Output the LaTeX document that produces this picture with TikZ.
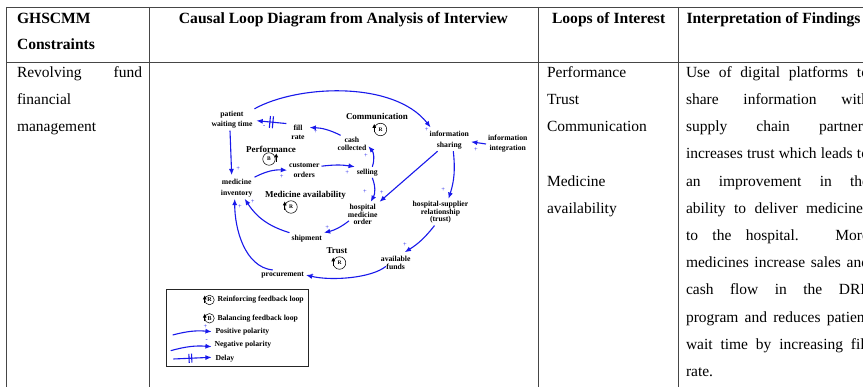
\documentclass[tikz,border=0pt]{standalone}
\usepackage{fontspec}
\setmainfont{Liberation Serif}
\usetikzlibrary{arrows.meta,calc}
\definecolor{cldblue}{RGB}{25,25,235}
\definecolor{rulegray}{RGB}{70,70,70}
\begin{document}
\begin{tikzpicture}[x=1pt,y=-1pt,
  every node/.style={inner sep=0pt, outer sep=0pt},
  body/.style={font=\fontsize{15.5}{18}\selectfont, anchor=base west},
  headt/.style={font=\fontsize{15.6}{18}\selectfont\bfseries, anchor=base west},
  var/.style={font=\fontsize{7.7}{#1}\selectfont\bfseries, align=center, inner sep=2pt},
  var/.default=8,
  looptitle/.style={font=\fontsize{9}{10}\selectfont\bfseries},
  loopc/.style={circle, draw=black, line width=0.5pt, minimum size=12.5pt, font=\fontsize{5.5}{5.5}\selectfont\bfseries},
  legc/.style={circle, draw=black, line width=0.5pt, minimum size=9.5pt, font=\fontsize{6}{6}\selectfont\bfseries},
  loopar/.style={draw=black, line width=1pt, -{Triangle[length=3.8pt,width=3.4pt]}},
  ln/.style={draw=cldblue, line width=1.1pt, -{Latex[length=6.3pt,width=5pt]}},
  sgn/.style={text=cldblue, font=\fontsize{6.5}{7}\selectfont},
  legt/.style={font=\fontsize{7.7}{8}\selectfont\bfseries, anchor=west},
  rule/.style={draw=rulegray, line width=0.8pt},
  delaym/.style={draw=cldblue, line width=1.1pt},
]
\useasboundingbox (0,0) rectangle (863,387);
\fill[white] (0,0) rectangle (863,387);
\clip (0,0) rectangle (863,387);

% table rules
\draw[rule] (6,7) -- (870,7);
\draw[rule] (6,62) -- (870,62);
\draw[rule] (6,7) -- (6,395);
\draw[rule] (149,7) -- (149,395);
\draw[rule] (538,7) -- (538,395);
\draw[rule] (678,7) -- (678,395);

% header
\node[headt] (h1a) at (17,24) {GHSCMM};
\node[headt] (h1b) at (17,50) {Constraints};
\node[headt, anchor=base] (h2) at (343.5,24) {Causal Loop Diagram from Analysis of Interview};
\node[headt] (h3) at (552,24) {Loops of Interest};
\node[headt] (h4) at (686.5,24) {Interpretation of Findings};

% column 1
\node[body] (c1a) at (17,77.3) {\makebox[125pt][s]{Revolving fund}};
\node[body] (c1b) at (17,104.5) {financial};
\node[body] (c1c) at (17,131.7) {management};

% column 3
\node[body] (c3a) at (547,77.3) {Performance};
\node[body] (c3b) at (547,104.5) {Trust};
\node[body] (c3c) at (547,131.7) {Communication};
\node[body] (c3d) at (547,186.1) {Medicine};
\node[body] (c3e) at (547,213.3) {availability};

% column 4
\node[body] (c4a) at (686,77.3) {\makebox[183pt][s]{Use of digital platforms to}};
\node[body] (c4b) at (686,104.5) {\makebox[183pt][s]{share information with}};
\node[body] (c4c) at (686,131.7) {\makebox[183pt][s]{supply chain partners}};
\node[body] (c4d) at (686,158.9) {\makebox[183pt][s]{increases trust which leads to}};
\node[body] (c4e) at (686,186.1) {\makebox[183pt][s]{an improvement in the}};
\node[body] (c4f) at (686,213.3) {\makebox[183pt][s]{ability to deliver medicines}};
\node[body] (c4g) at (686,240.5) {\makebox[183pt][s]{to the hospital. More}};
\node[body] (c4h) at (686,267.7) {\makebox[183pt][s]{medicines increase sales and}};
\node[body] (c4i) at (686,294.9) {\makebox[183pt][s]{cash flow in the DRF}};
\node[body] (c4j) at (686,322.1) {\makebox[183pt][s]{program and reduces patient}};
\node[body] (c4k) at (686,349.3) {\makebox[183pt][s]{wait time by increasing fill}};
\node[body] (c4l) at (686,376.5) {rate.};

% causal loop diagram variables
\node[var=10.7] (pwt) at (232,119.7) {patient\\waiting time};
\node[var=8.4] (fill) at (298,132.5) {fill\\rate};
\node[var=8.3] (cash) at (352,144.2) {cash\\collected};
\node[var=10.7] (info) at (449.3,140.3) {information\\sharing};
\node[var=10] (integ) at (507.7,144) {information\\integration};
\node[var=10.3] (cust) at (304.3,170.2) {customer\\orders};
\node[var] (sell) at (367.3,172.3) {selling};
\node[var=10.6] (inv) at (236.7,188) {medicine\\inventory};
\node[var=7.8] (hmo) at (362.7,214.4) {hospital\\medicine\\order};
\node[var=7.9] (hsr) at (440.5,212.2) {hospital-supplier\\relationship\\(trust)};
\node[var] (ship) at (306.7,238.2) {shipment};
\node[var=7.7] (funds) at (395.7,262.8) {available\\funds};
\node[var] (proc) at (282.7,275) {procurement};

% loop titles and symbols
\node[looptitle] (tComm) at (377,116) {Communication};
\node[loopc] (lComm) at (380.5,129.5) {R};
\draw[loopar] ([yshift=-3pt]lComm.west) -- ([yshift=5.5pt]lComm.west);
\node[looptitle] (tPerf) at (271,149) {Performance};
\node[loopc] (lPerf) at (269,159) {B};
\draw[loopar] ([xshift=1pt,yshift=-3pt]lPerf.east) -- ([xshift=1pt,yshift=5.5pt]lPerf.east);
\node[looptitle] (tMed) at (305.5,195) {Medicine availability};
\node[loopc] (lMed) at (291,207) {R};
\draw[loopar] ([yshift=-3pt]lMed.west) -- ([yshift=5.5pt]lMed.west);
\node[looptitle] (tTrust) at (337,251) {Trust};
\node[loopc] (lTrust) at (339.5,263) {R};
\draw[loopar] ([yshift=-3pt]lTrust.west) -- ([yshift=5.5pt]lTrust.west);

% connectors
\draw[ln] (pwt.north east) .. controls +(43,-24) and +(-37,-47) .. ([xshift=3pt,yshift=2pt]info.north west);
\draw[ln] ([xshift=-3pt]fill.north west) -- coordinate[pos=0.45](d1) coordinate[pos=0.55](d2) ([xshift=2pt,yshift=-1pt]pwt.east);
\draw[delaym] ($(d1)!6pt!90:(d2)$) -- ($(d1)!6pt!-90:(d2)$);
\draw[delaym] ($(d2)!6pt!90:(d1)$) -- ($(d2)!6pt!-90:(d1)$);
\draw[ln] ([xshift=5pt]cash.north west) to[bend right=12] ([xshift=3pt,yshift=5pt]fill.east);
\draw[ln] ([xshift=-2pt]pwt.south) -- ([xshift=-5pt,yshift=2pt]inv.north);
\draw[ln] (inv.north east) to[bend left=15] (cust.west);
\draw[ln] ([yshift=4pt]cust.east) to[bend left=8] (sell.north west);
\draw[ln] ([xshift=5pt]sell.north) to[bend right=30] ([yshift=-2pt]cash.east);
\draw[ln] (integ.west) -- ([yshift=-1.5pt]info.east);
\draw[ln] ([xshift=10pt]info.south west) -- (hmo.north east);
\draw[ln] ([xshift=5pt]sell.south) to[bend left=25] ([xshift=8pt]hmo.north);
\draw[ln] ([xshift=4pt]info.south) to[bend left=12] ([xshift=8pt]hsr.north);
\draw[ln] ([xshift=3pt,yshift=6pt]hmo.south west) to[bend left=12] (ship.north east);
\draw[ln] (ship.north west) to[bend left=20] ([xshift=8pt]inv.south);
\draw[ln] ([xshift=-10pt]proc.north) .. controls +(-28,-3) and +(0,30) .. ([xshift=-2pt]inv.south);
\draw[ln] ([xshift=-6pt]hsr.south) to[bend left=10] ([xshift=9pt,yshift=2pt]funds.north);
\draw[ln] ([xshift=7pt,yshift=5pt]funds.south west) .. controls +(-15,12) and +(25,6) .. (proc.east);

% polarity signs
\node[sgn] (s1) at (426.7,129.3) {+};
\node[sgn] (s2) at (264.3,127) {-};
\node[sgn] (s3) at (315.7,131.7) {+};
\node[sgn] (s4) at (238.3,168.3) {+};
\node[sgn] (s5) at (281.7,177) {+};
\node[sgn] (s6) at (347.3,172.3) {+};
\node[sgn] (s7) at (366,156) {+};
\node[sgn] (s8) at (476,149.3) {+};
\node[sgn] (s9) at (365,192) {+};
\node[sgn] (s10) at (381.7,192.5) {+};
\node[sgn] (s11) at (443.3,190) {+};
\node[sgn] (s12) at (327.3,227.3) {+};
\node[sgn] (s13) at (252.7,201.7) {+};
\node[sgn] (s14) at (240,206.7) {+};
\node[sgn] (s15) at (405,244.3) {+};
\node[sgn] (s16) at (312.3,276) {+};

% legend
\node[draw=black!85, line width=0.6pt, minimum width=142pt, minimum height=77pt, anchor=north west] (leg) at (166,289) {};
\node[legc] (legR) at (209.5,300) {R};
\draw[loopar] ([yshift=-3pt]legR.west) -- ([yshift=4.5pt]legR.west);
\node[legt] (legRt) at (217.5,300) {Reinforcing feedback loop};
\node[legc] (legB) at (209.5,318.3) {B};
\draw[loopar] ([yshift=-3pt]legB.west) -- ([yshift=4.5pt]legB.west);
\node[legt] (legBt) at (217.5,318.3) {Balancing feedback loop};
\coordinate (lgp1) at (172.7,335);
\coordinate (lgp2) at (211.7,331.7);
\draw[ln] (lgp1) to[bend left=10] (lgp2);
\node[sgn] (lgps) at (205.5,327) {+};
\node[legt] (lgpt) at (215.5,331.7) {Positive polarity};
\coordinate (lgn1) at (170.7,350.7);
\coordinate (lgn2) at (211.7,346.7);
\draw[ln] (lgn1) to[bend left=10] (lgn2);
\node[sgn] (lgns) at (206.7,340.5) {-};
\node[legt] (lgnt) at (214.5,344.5) {Negative polarity};
\coordinate (lgd1) at (173.3,359);
\coordinate (lgd2) at (211.7,357.3);
\draw[ln] (lgd1) -- coordinate[pos=0.41](e1) coordinate[pos=0.48](e2) (lgd2);
\draw[delaym] ($(e1)!4.5pt!90:(e2)$) -- ($(e1)!4.5pt!-90:(e2)$);
\draw[delaym] ($(e2)!4.5pt!90:(e1)$) -- ($(e2)!4.5pt!-90:(e1)$);
\node[legt] (lgdt) at (215.5,358.3) {Delay};
\end{tikzpicture}
\end{document}
